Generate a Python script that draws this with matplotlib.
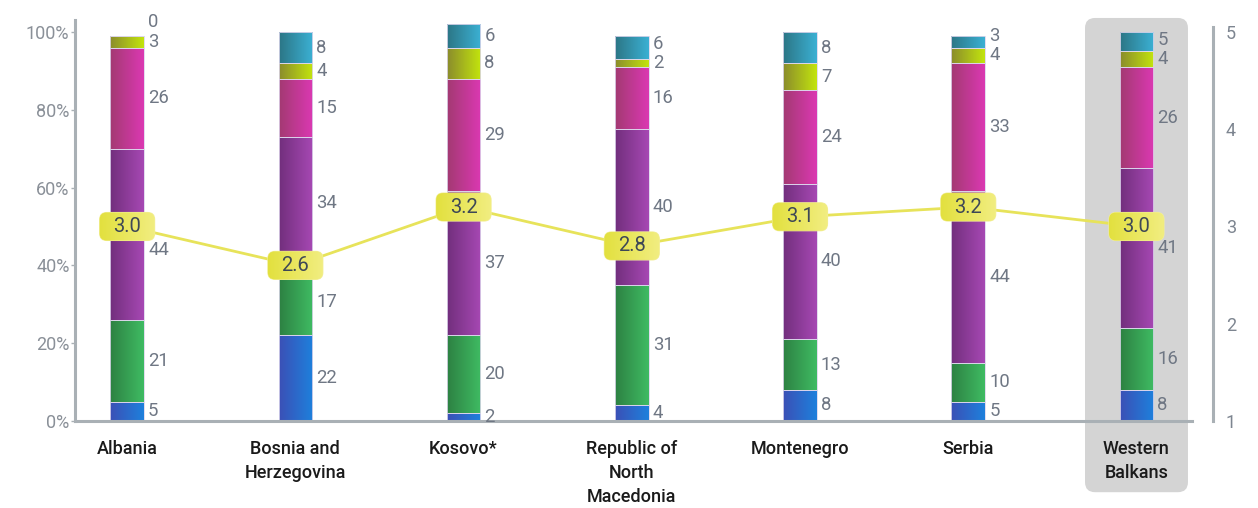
import numpy as np
import matplotlib
matplotlib.use('Agg')
import matplotlib.pyplot as plt
from matplotlib.colors import LinearSegmentedColormap
from matplotlib.patches import FancyBboxPatch
from matplotlib.transforms import ScaledTranslation

plt.rcParams['font.family'] = ['Roboto', 'DejaVu Sans']

countries = ['Albania', 'Bosnia and\nHerzegovina', 'Kosovo*', 'Republic of\nNorth\nMacedonia',
             'Montenegro', 'Serbia', 'Western\nBalkans']
blue = [5, 22, 2, 4, 8, 5, 8]
green = [21, 17, 20, 31, 13, 10, 16]
purple = [44, 34, 37, 40, 40, 44, 41]
magenta = [26, 15, 29, 16, 24, 33, 26]
lime = [3, 4, 8, 2, 7, 4, 4]
teal = [0, 8, 6, 6, 8, 3, 5]
score = [3.0, 2.6, 3.2, 2.8, 3.1, 3.2, 3.0]

series = [blue, green, purple, magenta, lime, teal]
# (left, right) colours for the horizontal gradient of each segment
grads = [('#3b50b6', '#1e80dc'),
         ('#2d8142', '#3fbb63'),
         ('#722f7d', '#a648b3'),
         ('#a33a72', '#db38b2'),
         ('#8b8c2c', '#c2e40e'),
         ('#2c7686', '#3bb0d3')]

YTOP = 103
x = np.arange(len(countries))
bw = 0.2

fig = plt.figure(figsize=(12.58, 5.08), dpi=100)
ax = fig.add_axes([75 / 1258, 1 - 421 / 508, 1117 / 1258, (421 - 20.3) / 508])
ax2 = ax.twinx()


def gradient(axis, clip, c0, c1, extent, z):
    cmap = LinearSegmentedColormap.from_list('g', [c0, c1])
    im = axis.imshow(np.linspace(0, 1, 64).reshape(1, -1), cmap=cmap, extent=extent,
                     aspect='auto', origin='lower', interpolation='bilinear', zorder=z)
    im.set_clip_path(clip)
    return im


# data units per pixel on each axis
px_x = 6.64 / 1117
px_y = YTOP / (421 - 20.3)

# highlight panel behind the regional average
hl = FancyBboxPatch((x[-1] - 0.306, -18.3), 0.612, 103.6 + 18.3,
                    boxstyle='round,pad=0,rounding_size=%f' % (10 * px_x),
                    mutation_aspect=px_y / px_x, facecolor='#d4d4d4', edgecolor='none',
                    clip_on=False, zorder=0.5)
ax.add_patch(hl)

bottom = np.zeros(len(countries))
for vals, (c0, c1) in zip(series, grads):
    bars = ax.bar(x, vals, bw, bottom=bottom, facecolor='none', edgecolor='#ddd6ec',
                  linewidth=0.6, zorder=3)
    for r in bars:
        if r.get_height() <= 0:
            continue
        x0, y0 = r.get_x(), r.get_y()
        gradient(ax, r, c0, c1, [x0, x0 + r.get_width(), y0, y0 + r.get_height()], 2)
    bottom += np.array(vals)

# score position in percent units, used to keep segment labels clear of the score boxes
score_pct = [(s - 1) / 4 * 100 for s in score]

# segment value labels, nudged apart where segments are thin
for i in range(len(countries)):
    base = 0
    prev = -10
    for vals in series:
        v = vals[i]
        pos = max(base + v / 2, prev + 5)
        if abs(pos - score_pct[i]) < 20 * px_y:
            pos = score_pct[i] - 24 * px_y
        ax.text(x[i] + bw / 2 + 0.024, pos, str(v), ha='left', va='center',
                fontsize=13.3, color='#6f7784', zorder=6)
        prev = pos
        base += v

ax.set_xlim(-0.31, 6.33)
ax.set_ylim(0, YTOP)
ax.set_yticks(range(0, 101, 20))
ax.set_yticklabels(['%d%%' % v for v in range(0, 101, 20)])
ax.tick_params(axis='y', length=3, width=1, color='#a9b0b5', pad=1, labelsize=13,
               labelcolor='#8a9098')
ax.set_xticks(x)
ax.set_xticklabels(countries, fontsize=13, color='#1a1a1a', linespacing=1.42,
                   fontweight='medium')
ax.tick_params(axis='x', length=0, pad=14)
for s in ['top', 'right']:
    ax.spines[s].set_visible(False)
for s in ['left', 'bottom']:
    ax.spines[s].set_color('#a9b0b5')
    ax.spines[s].set_linewidth(2.2)
    ax.spines[s].set_zorder(4)

# average score line on the right scale
ax2.plot(x, score, color='#e7e35a', linewidth=2, zorder=5)
for xi, s in zip(x, score):
    tr = fig.dpi_scale_trans + ScaledTranslation(xi, s, ax2.transData)
    box = FancyBboxPatch((-0.275, -0.14), 0.55, 0.28,
                         boxstyle='round,pad=0,rounding_size=0.07',
                         transform=tr, facecolor='none', edgecolor='#f3ef9c',
                         linewidth=0.8, zorder=6)
    ax2.add_patch(box)
    gradient(ax2, box, '#e1df38', '#f3ef88', [xi - 0.2, xi + 0.2, s - 0.2, s + 0.2], 6)
    ax2.text(xi, s, '%.1f' % s, ha='center', va='center', fontsize=14.5,
             color='#3e4856', zorder=7)

ax2.set_xlim(-0.31, 6.33)
ax2.set_ylim(1, 1 + 4 * YTOP / 100)
ax2.set_yticks([1, 2, 3, 4, 5])
ax2.tick_params(axis='y', length=0, pad=9, labelsize=13, labelcolor='#7d8590')
for s in ['top', 'left', 'bottom']:
    ax2.spines[s].set_visible(False)
ax2.spines['right'].set_position(('axes', 1.019))
ax2.spines['right'].set_bounds(1, 5.05)
ax2.spines['right'].set_color('#a9b0b5')
ax2.spines['right'].set_linewidth(2.2)

fig.savefig('out.png', dpi=100)
